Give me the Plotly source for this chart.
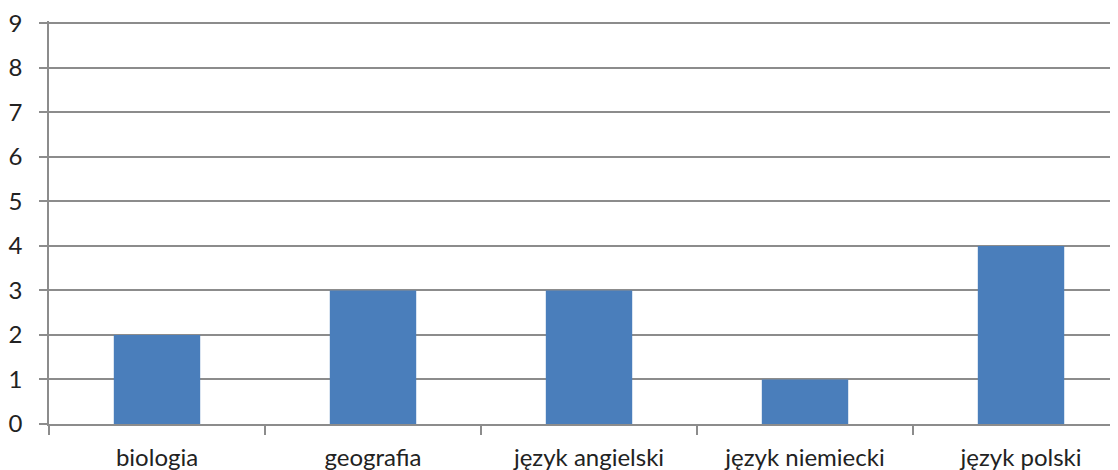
import plotly.graph_objects as go

categories = ["biologia", "geografia", "język angielski", "język niemiecki", "język polski"]
values = [2, 3, 3, 1, 4]
y_ticks = list(range(0, 10))

fig = go.Figure(
    go.Bar(x=categories, y=values, marker=dict(color="#4a7ebb", line=dict(width=0)))
)

font = dict(family="Lato, Carlito, 'Open Sans', sans-serif", size=24, color="#222222")

# page body has an 8px default margin; compensate so the plot lands where the reference has it
fig.update_layout(
    width=1118, height=470,
    margin=dict(l=41, r=8, t=13, b=54, autoexpand=False),
    paper_bgcolor="white", plot_bgcolor="white",
    bargap=0.6, showlegend=False, font=font,
)
fig.update_xaxes(
    type="category", range=[-0.5, 4.449], automargin=False,
    showline=True, linecolor="#8c8c8c", linewidth=1.5,
    ticks="outside", tickson="boundaries", ticklen=9, tickcolor="#8c8c8c", tickwidth=1.5,
    showgrid=False, ticklabelstandoff=11,
)
fig.update_yaxes(
    range=[0, 9.05], tickvals=y_ticks, automargin=False, ticklabeloverflow="allow",
    showline=True, linecolor="#8c8c8c", linewidth=1.5,
    ticks="outside", ticklen=8, tickcolor="#8c8c8c", tickwidth=1.5,
    showgrid=True, gridcolor="#8c8c8c", gridwidth=1.5, zeroline=False,
    ticklabelstandoff=12,
)
fig.write_html("out.html")
